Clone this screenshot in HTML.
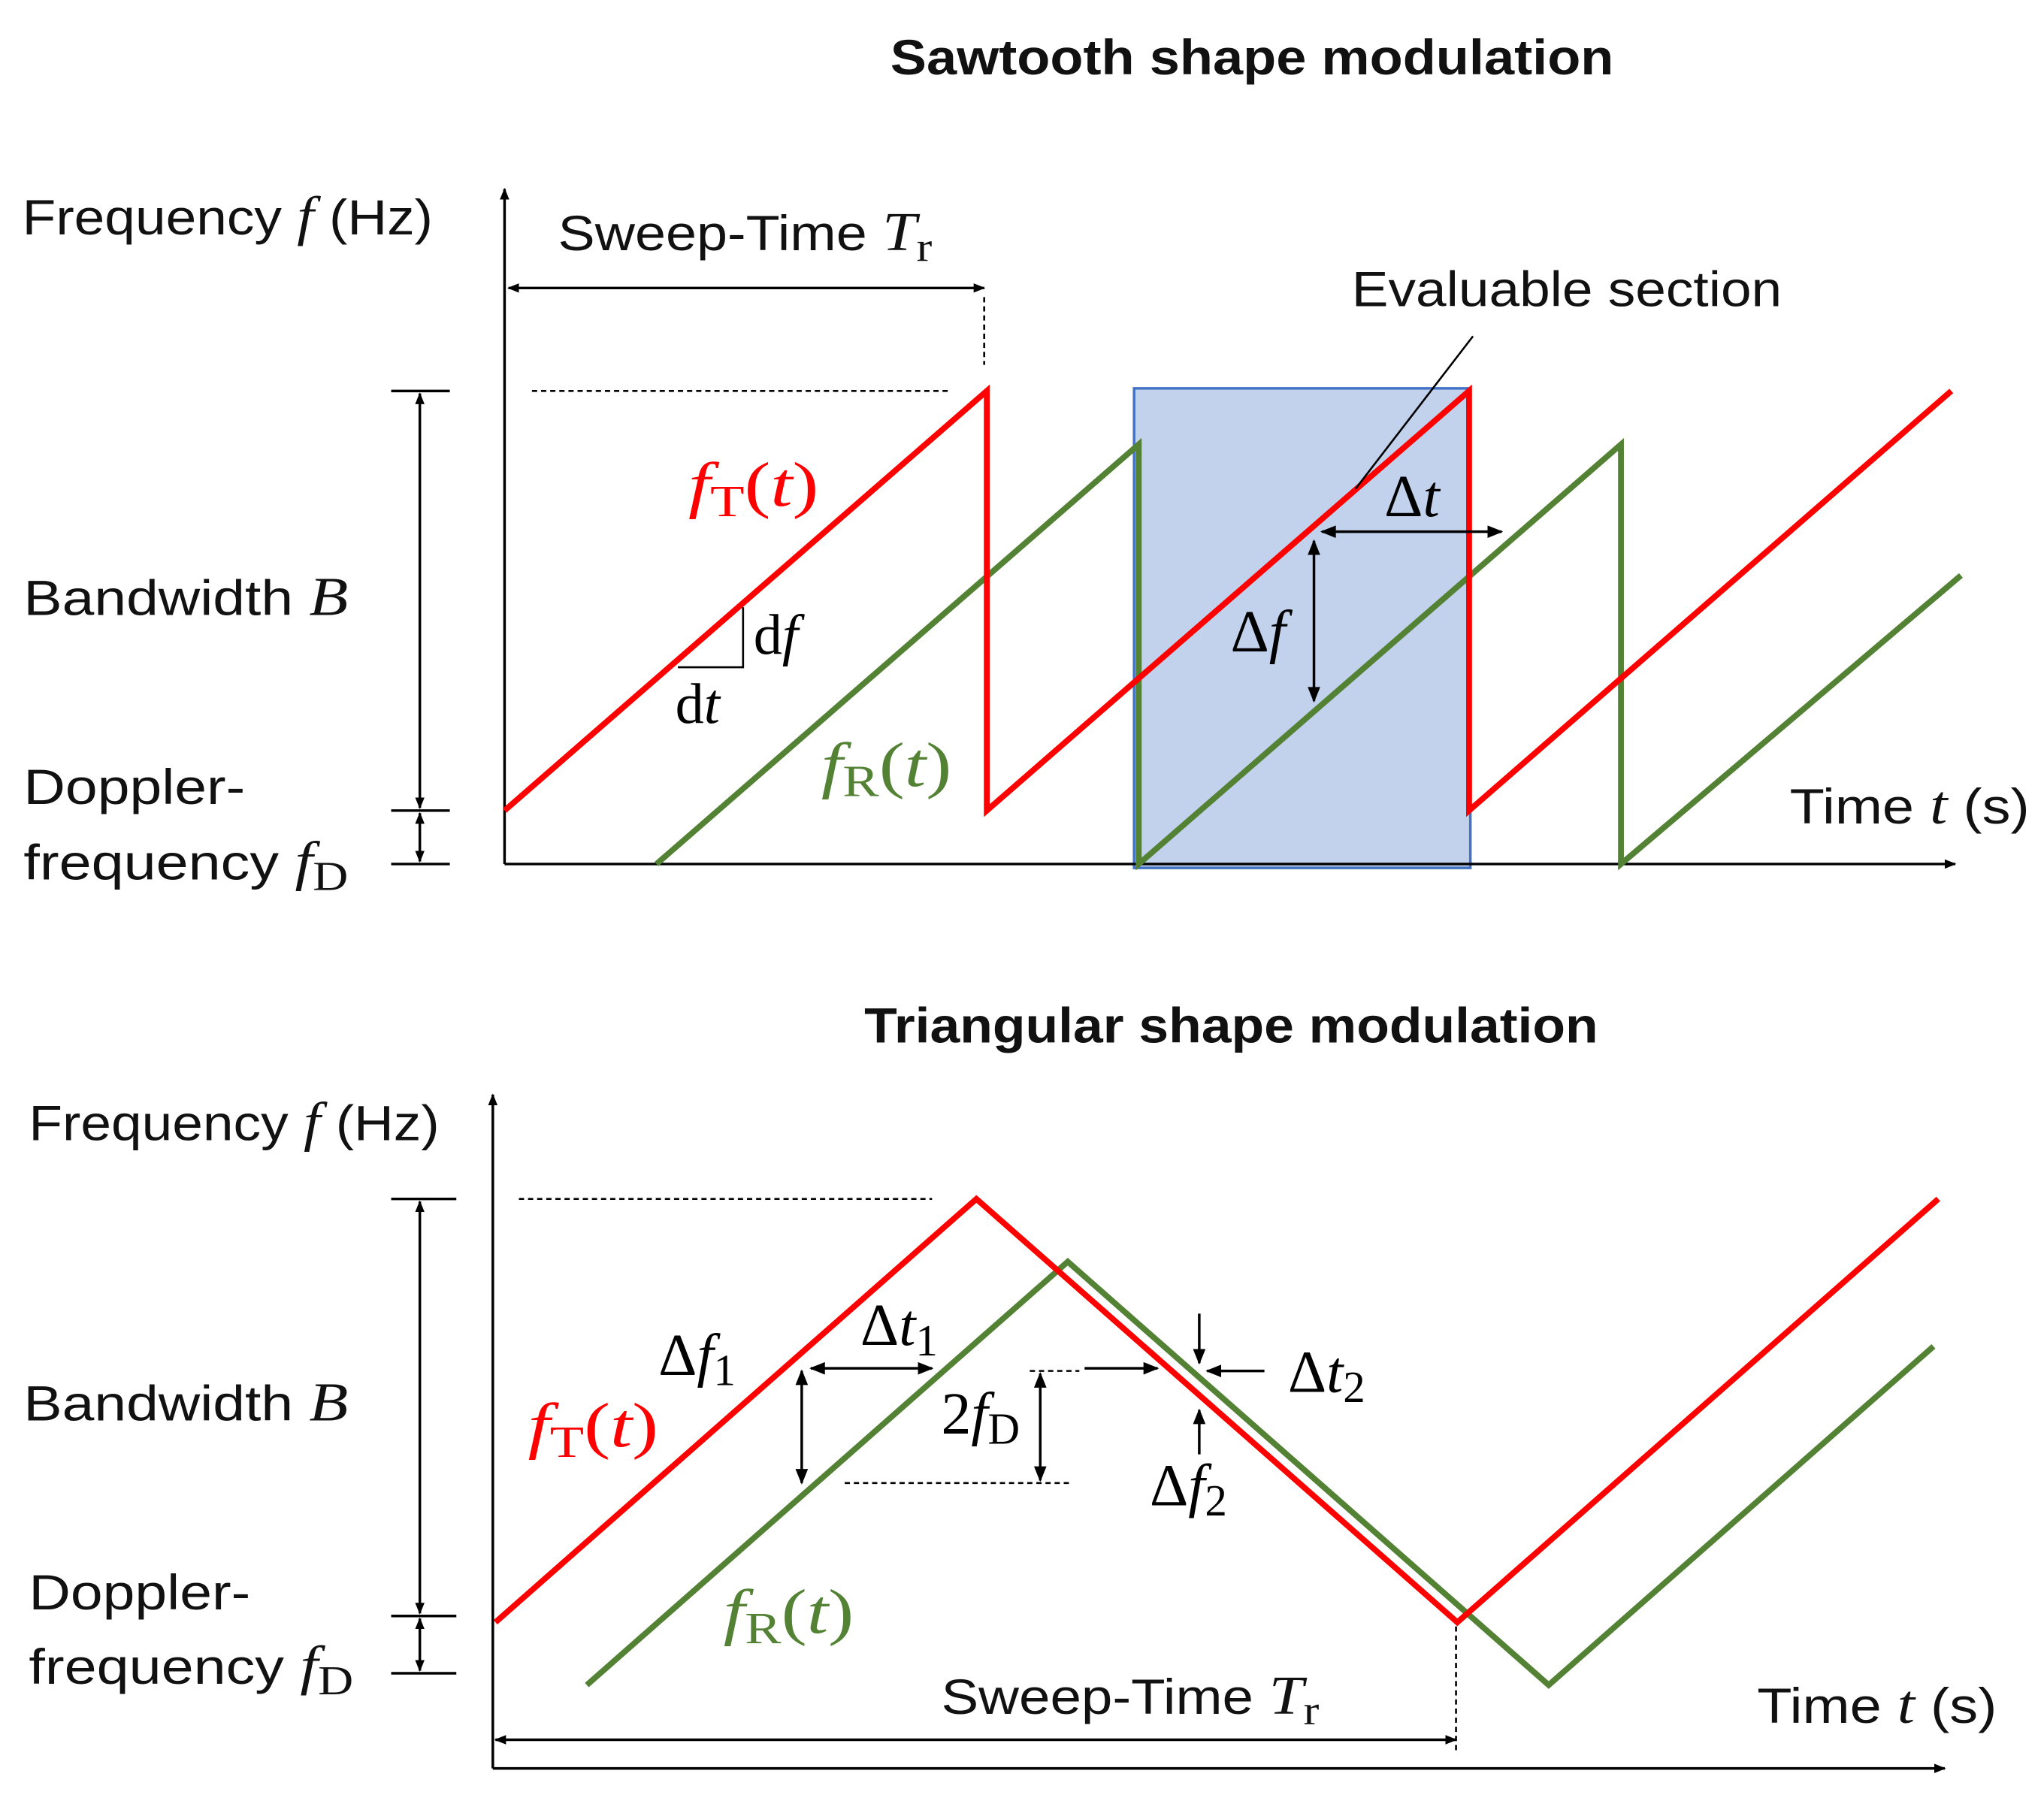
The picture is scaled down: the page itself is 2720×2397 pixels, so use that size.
<!DOCTYPE html>
<html><head><meta charset="utf-8">
<style>
html,body{margin:0;padding:0;background:#fff;}
svg{display:block;}
.lbl{font-family:"Liberation Sans",sans-serif;font-size:38px;fill:#111;}
.ttl{font-family:"Liberation Sans",sans-serif;font-size:38px;font-weight:bold;fill:#111;}
.m{font-family:"Liberation Serif",serif;font-style:italic;}
.r{font-family:"Liberation Serif",serif;font-style:normal;}
</style></head>
<body>
<svg id="chart" width="2720" height="2397" viewBox="0 0 1568 1382" xmlns="http://www.w3.org/2000/svg">
<defs>
<marker id="ah" viewBox="0 0 10 10" refX="9" refY="5" markerWidth="9" markerHeight="9" markerUnits="userSpaceOnUse" orient="auto-start-reverse"><path d="M0,1 L10,5 L0,9 z" fill="#000"/></marker>
<marker id="ah2" viewBox="0 0 10 10" refX="9" refY="5" markerWidth="14" markerHeight="12" markerUnits="userSpaceOnUse" orient="auto-start-reverse"><path d="M0,1 L10,5 L0,9 z" fill="#000"/></marker>
</defs>
<g id="top">
<text class="ttl" x="683" y="57" textLength="555" lengthAdjust="spacingAndGlyphs">Sawtooth shape modulation</text>
<rect x="870" y="298" width="258" height="368" fill="#b4c7e7" fill-opacity="0.8" stroke="#4472c4" stroke-width="2"/>
<line x1="387" y1="663" x2="387" y2="145" stroke="#000" stroke-width="2" marker-end="url(#ah)"/>
<line x1="387" y1="663" x2="1500" y2="663" stroke="#000" stroke-width="2" marker-end="url(#ah)"/>
<g id="topSeries"></g>
<text class="lbl" x="17" y="180" textLength="315" lengthAdjust="spacingAndGlyphs">Frequency <tspan class="m" font-size="42">f</tspan> (Hz)</text>
<text class="lbl" x="18" y="472" textLength="249" lengthAdjust="spacingAndGlyphs">Bandwidth <tspan class="m" font-size="42">B</tspan></text>
<text class="lbl" x="18" y="617" textLength="170" lengthAdjust="spacingAndGlyphs">Doppler-</text>
<text class="lbl" x="18" y="675" textLength="249" lengthAdjust="spacingAndGlyphs">frequency <tspan class="m" font-size="42">f</tspan><tspan class="r" font-size="32" dy="8">D</tspan></text>
<text class="lbl" x="1373" y="632" textLength="184" lengthAdjust="spacingAndGlyphs">Time <tspan class="m" font-size="42">t</tspan> (s)</text>
<text class="lbl" x="428" y="192" textLength="287" lengthAdjust="spacingAndGlyphs">Sweep-Time <tspan class="m" font-size="42">T</tspan><tspan class="r" font-size="32" dy="8">r</tspan></text>
<line x1="390" y1="221" x2="755" y2="221" stroke="#000" stroke-width="2" marker-start="url(#ah)" marker-end="url(#ah)"/>
<line x1="755" y1="228" x2="755" y2="280" stroke="#000" stroke-width="1.5" stroke-dasharray="4,3"/>
<line x1="408" y1="300" x2="728" y2="300" stroke="#000" stroke-width="1.5" stroke-dasharray="4,3"/>
<g stroke="#000" stroke-width="2">
<line x1="300" y1="300" x2="345" y2="300"/><line x1="300" y1="622" x2="345" y2="622"/><line x1="300" y1="663" x2="345" y2="663"/>
<line x1="322" y1="302" x2="322" y2="620" marker-start="url(#ah)" marker-end="url(#ah)"/>
<line x1="322" y1="624" x2="322" y2="661" marker-start="url(#ah)" marker-end="url(#ah)"/>
</g>
<text class="m" x="528" y="388" font-size="48" fill="#ff0000" textLength="100" lengthAdjust="spacingAndGlyphs">f<tspan class="r" font-size="34" dy="8">T</tspan><tspan class="r" dy="-8">(</tspan>t<tspan class="r">)</tspan></text>
<text class="m" x="630" y="603" font-size="48" fill="#548235" textLength="100" lengthAdjust="spacingAndGlyphs">f<tspan class="r" font-size="34" dy="8">R</tspan><tspan class="r" dy="-8">(</tspan>t<tspan class="r">)</tspan></text>
<polyline points="520,512 570,512 570,466" fill="none" stroke="#000" stroke-width="1.5"/>
<text class="r" x="578" y="502" font-size="44">d<tspan class="m">f</tspan></text>
<text class="r" x="518" y="555" font-size="44">d<tspan class="m">t</tspan></text>
<text class="lbl" x="1037" y="235" textLength="330" lengthAdjust="spacingAndGlyphs">Evaluable section</text>
<line x1="1130" y1="258" x2="1040" y2="375" stroke="#000" stroke-width="1.5"/>
<line x1="1014" y1="408" x2="1152" y2="408" stroke="#000" stroke-width="2" marker-start="url(#ah2)" marker-end="url(#ah2)"/>
<text class="m" x="1062" y="396" font-size="46"><tspan class="r">Δ</tspan>t</text>
<line x1="1008" y1="415" x2="1008" y2="538" stroke="#000" stroke-width="2" marker-start="url(#ah2)" marker-end="url(#ah2)"/>
<text class="m" x="944" y="500" font-size="46"><tspan class="r">Δ</tspan>f</text>
</g>
<g id="bottom">
<text class="ttl" x="663" y="800" textLength="563" lengthAdjust="spacingAndGlyphs">Triangular shape modulation</text>
<line x1="378" y1="1357" x2="378" y2="840" stroke="#000" stroke-width="2" marker-end="url(#ah)"/>
<line x1="378" y1="1357" x2="1492" y2="1357" stroke="#000" stroke-width="2" marker-end="url(#ah)"/>
<g id="botSeries"></g>
<text class="lbl" x="22" y="875" textLength="315" lengthAdjust="spacingAndGlyphs">Frequency <tspan class="m" font-size="42">f</tspan> (Hz)</text>
<text class="lbl" x="18" y="1090" textLength="249" lengthAdjust="spacingAndGlyphs">Bandwidth <tspan class="m" font-size="42">B</tspan></text>
<text class="lbl" x="22" y="1235" textLength="170" lengthAdjust="spacingAndGlyphs">Doppler-</text>
<text class="lbl" x="22" y="1292" textLength="249" lengthAdjust="spacingAndGlyphs">frequency <tspan class="m" font-size="42">f</tspan><tspan class="r" font-size="32" dy="8">D</tspan></text>
<text class="lbl" x="1348" y="1322" textLength="184" lengthAdjust="spacingAndGlyphs">Time <tspan class="m" font-size="42">t</tspan> (s)</text>
<text class="lbl" x="722" y="1315" textLength="290" lengthAdjust="spacingAndGlyphs">Sweep-Time <tspan class="m" font-size="42">T</tspan><tspan class="r" font-size="32" dy="8">r</tspan></text>
<line x1="380" y1="1335" x2="1117" y2="1335" stroke="#000" stroke-width="2" marker-start="url(#ah)" marker-end="url(#ah)"/>
<line x1="1117" y1="1248" x2="1117" y2="1345" stroke="#000" stroke-width="1.5" stroke-dasharray="4,3"/>
<line x1="398" y1="920" x2="715" y2="920" stroke="#000" stroke-width="1.5" stroke-dasharray="4,3"/>
<g stroke="#000" stroke-width="2">
<line x1="300" y1="920" x2="350" y2="920"/><line x1="300" y1="1240" x2="350" y2="1240"/><line x1="300" y1="1284" x2="350" y2="1284"/>
<line x1="322" y1="922" x2="322" y2="1238" marker-start="url(#ah)" marker-end="url(#ah)"/>
<line x1="322" y1="1242" x2="322" y2="1282" marker-start="url(#ah)" marker-end="url(#ah)"/>
</g>
<text class="m" x="405" y="1110" font-size="48" fill="#ff0000" textLength="100" lengthAdjust="spacingAndGlyphs">f<tspan class="r" font-size="34" dy="8">T</tspan><tspan class="r" dy="-8">(</tspan>t<tspan class="r">)</tspan></text>
<text class="m" x="555" y="1253" font-size="48" fill="#548235" textLength="100" lengthAdjust="spacingAndGlyphs">f<tspan class="r" font-size="34" dy="8">R</tspan><tspan class="r" dy="-8">(</tspan>t<tspan class="r">)</tspan></text>
<text class="m" x="505" y="1055" font-size="46"><tspan class="r">Δ</tspan>f<tspan class="r" font-size="34" dy="8">1</tspan></text>
<text class="m" x="660" y="1032" font-size="46"><tspan class="r">Δ</tspan>t<tspan class="r" font-size="34" dy="8">1</tspan></text>
<line x1="622" y1="1050" x2="715" y2="1050" stroke="#000" stroke-width="2" marker-start="url(#ah2)" marker-end="url(#ah2)"/>
<line x1="615" y1="1052" x2="615" y2="1138" stroke="#000" stroke-width="2" marker-start="url(#ah2)" marker-end="url(#ah2)"/>
<line x1="648" y1="1138" x2="820" y2="1138" stroke="#000" stroke-width="1.5" stroke-dasharray="4,3"/>
<line x1="790" y1="1052" x2="828" y2="1052" stroke="#000" stroke-width="1.5" stroke-dasharray="4,3"/>
<text class="r" x="722" y="1100" font-size="46">2<tspan class="m">f</tspan><tspan font-size="34" dy="8">D</tspan></text>
<line x1="798" y1="1054" x2="798" y2="1136" stroke="#000" stroke-width="2" marker-start="url(#ah2)" marker-end="url(#ah2)"/>
<line x1="832" y1="1050" x2="888" y2="1050" stroke="#000" stroke-width="2" marker-end="url(#ah2)"/>
<line x1="970" y1="1052" x2="926" y2="1052" stroke="#000" stroke-width="2" marker-end="url(#ah2)"/>
<line x1="920" y1="1008" x2="920" y2="1046" stroke="#000" stroke-width="2" marker-end="url(#ah2)"/>
<line x1="920" y1="1116" x2="920" y2="1082" stroke="#000" stroke-width="2" marker-end="url(#ah2)"/>
<text class="m" x="988" y="1068" font-size="46"><tspan class="r">Δ</tspan>t<tspan class="r" font-size="34" dy="8">2</tspan></text>
<text class="m" x="882" y="1155" font-size="46"><tspan class="r">Δ</tspan>f<tspan class="r" font-size="34" dy="8">2</tspan></text>
</g>
</svg>
<script>
// Sawtooth panel data (t in units of Tr, f normalized to bandwidth+fD)
const sawRedT = [0, 1, 1, 2, 2, 3];
const sawRedF = [0.113, 1, 0.113, 1, 0.113, 1];
const sawGreenT = [0.315, 1.315, 1.315, 2.315, 2.315, 3.02];
const sawGreenF = [0, 0.887, 0, 0.887, 0, 0.61];
// Triangular panel data
const triRedT = [0, 1, 2, 3];
const triRedF = [0.11, 1, 0.11, 1];
const triGreenT = [0.19, 1.19, 2.19, 2.99];
const triGreenF = [-0.022, 0.868, -0.022, 0.69];

const NS = 'http://www.w3.org/2000/svg';
const sx1 = t => 387 + t * 370;
const sy1 = f => 663 - f * 363;
const sx2 = t => 380 + t * 369;
const sy2 = f => 1285 - f * 365;

function drawLine(parentId, ts, fs, xf, yf, color, name) {
  const pl = document.createElementNS(NS, 'polyline');
  pl.setAttribute('points', ts.map((t, i) => xf(t) + ',' + yf(fs[i])).join(' '));
  pl.setAttribute('fill', 'none');
  pl.setAttribute('stroke', color);
  pl.setAttribute('stroke-width', '4.5');
  pl.setAttribute('stroke-linejoin', 'miter');
  
  
  document.getElementById(parentId).appendChild(pl);
}
drawLine('topSeries', sawGreenT, sawGreenF, sx1, sy1, '#548235', 'received-signal-sawtooth');
drawLine('topSeries', sawRedT, sawRedF, sx1, sy1, '#ff0000', 'transmitted-signal-sawtooth');
drawLine('botSeries', triGreenT, triGreenF, sx2, sy2, '#548235', 'received-signal-triangular');
drawLine('botSeries', triRedT, triRedF, sx2, sy2, '#ff0000', 'transmitted-signal-triangular');
</script>
</body></html>
